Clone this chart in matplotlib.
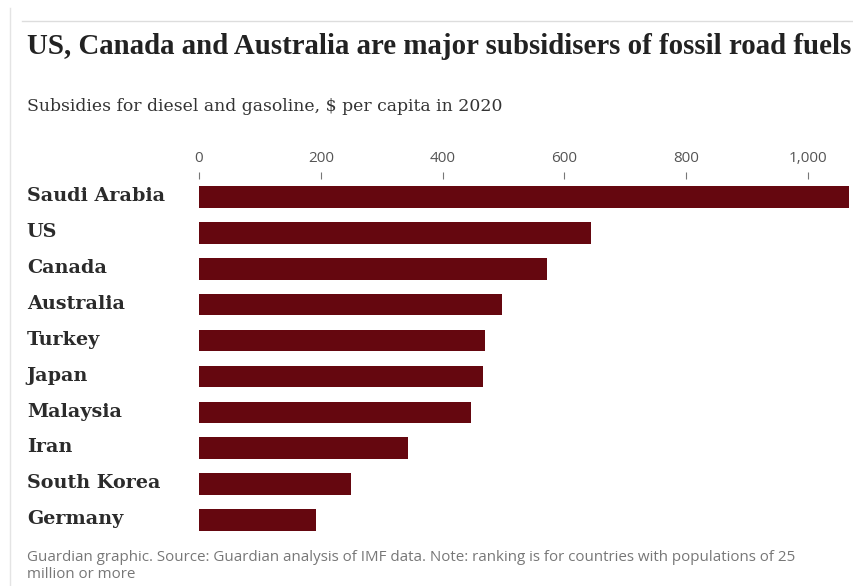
import matplotlib.pyplot as plt
from matplotlib.lines import Line2D
from matplotlib.transforms import ScaledTranslation

countries = ['Saudi Arabia', 'US', 'Canada', 'Australia', 'Turkey',
             'Japan', 'Malaysia', 'Iran', 'South Korea', 'Germany']
subsidies = [1068, 643, 571, 497, 469, 466, 446, 343, 249, 192]
ticks = [0, 200, 400, 600, 800, 1000]
tick_labels = ['0', '200', '400', '600', '800', '1,000']

bar_colour = '#65070f'

fig = plt.figure(figsize=(8.54, 5.86), dpi=100)
ax = fig.add_axes([199 / 854, 1 - 538 / 586, 651 / 854, 359 / 586])

ax.barh(range(len(countries)), subsidies, height=0.6, color=bar_colour)
ax.set_xlim(0, 1069)
ax.set_ylim(len(countries) - 0.5, -0.5)

ax.xaxis.tick_top()
ax.set_xticks(ticks)
ax.set_xticklabels(tick_labels, fontsize=11, color='#555555', family='Open Sans')
ax.tick_params(axis='x', length=5, width=0.8, color='#777777', pad=4)

ax.set_yticks(range(len(countries)))
ax.set_yticklabels(countries, fontsize=13.8, fontweight='bold',
                   color='#2b2b2b', family='DejaVu Serif')
ax.tick_params(axis='y', length=0, pad=124)
# nudge the country names up a little
shift = ScaledTranslation(0, 2 / 72, fig.dpi_scale_trans)
for lab in ax.get_yticklabels():
    lab.set_horizontalalignment('left')
    lab.set_transform(lab.get_transform() + shift)

for s in ax.spines.values():
    s.set_visible(False)

fig.text(27 / 854, 1 - 47 / 586, 'US, Canada and Australia are major subsidisers of fossil road fuels',
         fontsize=20.8, fontweight='bold', color='#222222', family='Liberation Serif',
         va='center', ha='left')
fig.text(27 / 854, 1 - 107 / 586, 'Subsidies for diesel and gasoline, $ per capita in 2020',
         fontsize=12.4, color='#333333', family='DejaVu Serif', va='center', ha='left')
fig.text(27 / 854, 1 - 566 / 586,
         'Guardian graphic. Source: Guardian analysis of IMF data. Note: ranking is for countries with populations of 25\nmillion or more',
         fontsize=10.9, color='#777777', family='Open Sans', va='center', ha='left', linespacing=1.2)

fig.add_artist(Line2D([22 / 854, 1], [1 - 21 / 586, 1 - 21 / 586], color='#dddddd', lw=1))
fig.add_artist(Line2D([10 / 854, 10 / 854], [0, 1 - 8 / 586], color='#e4e4e4', lw=1))

fig.savefig('out.png', dpi=100)
